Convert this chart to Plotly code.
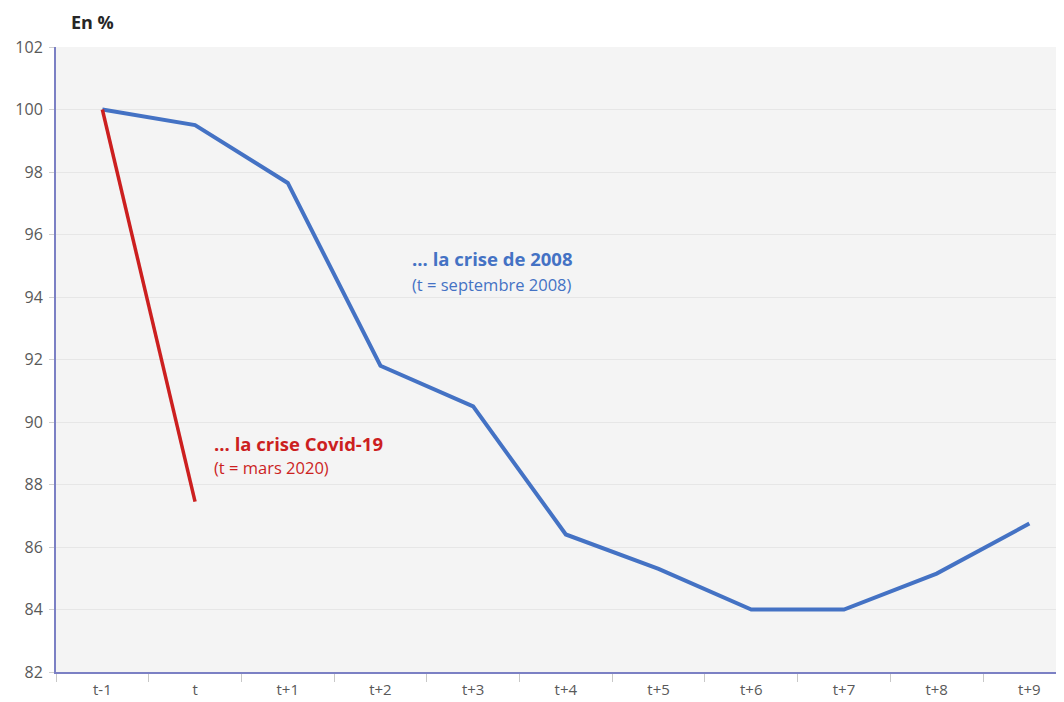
import plotly.graph_objects as go

categories = ["t-1", "t", "t+1", "t+2", "t+3", "t+4", "t+5", "t+6", "t+7", "t+8", "t+9"]
crise_2008 = [100.0, 99.5, 97.65, 91.8, 90.5, 86.4, 85.3, 84.0, 84.0, 85.15, 86.75]
crise_covid = [100.0, 87.45]
y_ticks = [82, 84, 86, 88, 90, 92, 94, 96, 98, 100, 102]

BLUE = "#4472c4"
RED = "#cc1f1f"
FONT = "Open Sans"

# page body has an 8px default margin -> compensate in margins
OFF = 8
PL, PT = 56, 47          # target plot-area left/top in page pixels
PW, PH = 1016, 625       # plot area size (extends past the right edge)

fig = go.Figure()
fig.add_trace(go.Scatter(x=categories, y=crise_2008, mode="lines",
                         line=dict(color=BLUE, width=4), name="2008"))
fig.add_trace(go.Scatter(x=categories[:len(crise_covid)], y=crise_covid, mode="lines",
                         line=dict(color=RED, width=3.5), name="Covid-19"))

fig.update_layout(
    width=1064, height=702,
    margin=dict(l=PL - OFF, r=1064 - (PL - OFF) - PW, t=PT - OFF, b=702 - (PT - OFF) - PH, autoexpand=False),
    paper_bgcolor="white",
    plot_bgcolor="#f4f4f4",
    showlegend=False,
    font=dict(family=FONT, color="#595959", size=16),
)
fig.update_xaxes(
    type="category", categoryorder="array", categoryarray=categories,
    range=[-0.5, 10.46],
    showgrid=False, zeroline=False,
    showline=True, linecolor="#7b80c4", linewidth=2,
    ticks="outside", tickson="boundaries", ticklen=8, tickcolor="#c8c8c8", tickwidth=1,
    ticklabelstandoff=3,
    tickfont=dict(size=15, color="#595959"),
)
fig.update_yaxes(
    range=[82, 102], tickvals=y_ticks,
    showgrid=True, gridcolor="#e6e6e6", gridwidth=1,
    zeroline=False,
    showline=True, linecolor="#7b80c4", linewidth=2,
    ticks="outside", ticklen=5, tickcolor="#d0d0d0",
    ticklabelstandoff=3,
    tickfont=dict(size=16, color="#595959"),
)


def px(x):
    return (x - PL) / PW


def py(y):
    return 1 - (y - PT) / PH


fig.add_annotation(text="<b>En %</b>", xref="paper", yref="paper",
                   x=px(69), y=py(22), xanchor="left", yanchor="middle",
                   showarrow=False, font=dict(size=18, color="#262626", family=FONT))

fig.add_annotation(text="<b>... la crise de 2008</b>", xref="paper", yref="paper",
                   x=px(410), y=py(259), xanchor="left", yanchor="middle",
                   showarrow=False, font=dict(size=18.5, color=BLUE, family=FONT))
fig.add_annotation(text="(t = septembre 2008)", xref="paper", yref="paper",
                   x=px(410), y=py(284), xanchor="left", yanchor="middle",
                   showarrow=False, font=dict(size=16.5, color=BLUE, family=FONT))

fig.add_annotation(text="<b>... la crise Covid-19</b>", xref="paper", yref="paper",
                   x=px(212), y=py(443), xanchor="left", yanchor="middle",
                   showarrow=False, font=dict(size=18.5, color=RED, family=FONT))
fig.add_annotation(text="(t = mars 2020)", xref="paper", yref="paper",
                   x=px(212), y=py(467), xanchor="left", yanchor="middle",
                   showarrow=False, font=dict(size=16.5, color=RED, family=FONT))

fig.write_html("out.html")
